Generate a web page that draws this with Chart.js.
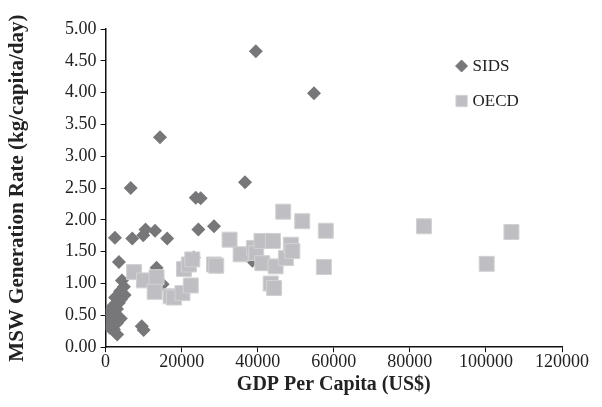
<!DOCTYPE html>
<html>
<head>
<meta charset="utf-8">
<script src="https://cdn.jsdelivr.net/npm/chart.js@4/dist/chart.umd.min.js"></script>
<style>
  html, body { margin: 0; padding: 0; background: #fff; }
  #wrap { width: 602px; height: 407px; }
</style>
</head>
<body>
<div id="wrap"><canvas id="msw"></canvas></div>
<script>
// GDP per capita (US$) and MSW rate (kg/capita/day)
var sidsGdp = [2450, 7000, 9900, 10500, 13000, 16200, 14300, 6600, 36650, 23700, 25000, 28500, 24400,
  39500, 54800, 3500, 13400, 15000, 23200, 38600, 9500, 10000, 3050,
  4300, 4800, 3800, 5000, 2500, 3500, 2000, 3000, 4000, 800, 1500, 2500, 500, 1800, 3000, 1200, 2200, 4000];
var sidsRate = [1.72, 1.71, 1.76, 1.85, 1.83, 1.71, 3.30, 2.50, 2.59, 2.35, 2.34, 1.90, 1.85,
  4.65, 3.99, 1.34, 1.25, 0.99, 1.41, 1.36, 0.33, 0.27, 0.20,
  1.05, 0.95, 0.88, 0.82, 0.78, 0.70, 0.65, 0.60, 0.75, 0.55, 0.50, 0.45, 0.40, 0.35, 0.38, 0.30, 0.28, 0.45];

var oecdGdp = [7500, 10100, 13400, 12900, 17100, 18000, 20200, 20600, 21900, 22400, 22800,
  28500, 29100, 32600, 35500, 39000, 39600, 41000, 41200, 44000, 44700, 43400, 44300,
  47400, 48700, 49100, 46700, 51700, 57900, 57400, 83700, 106700, 100200];
var oecdRate = [1.18, 1.05, 1.10, 0.87, 0.80, 0.78, 0.85, 1.23, 1.30, 0.97, 1.38,
  1.30, 1.28, 1.69, 1.46, 1.56, 1.48, 1.67, 1.32, 1.67, 1.27, 1.00, 0.93,
  1.40, 1.61, 1.51, 2.13, 1.98, 1.83, 1.26, 1.90, 1.81, 1.31];

var serif = "'Liberation Serif', 'DejaVu Serif', serif";

function toPoints(xs, ys) {
  var pts = [];
  for (let i = 0; i < xs.length; i++) {
    pts.push({ x: xs[i], y: ys[i] });
  }
  return pts;
}

// Legend sits inside the plot, top right, one item per row
var insideLegend = {
  id: 'insideLegend',
  afterDraw: function(chart) {
    var ctx = chart.ctx;
    var area = chart.chartArea;
    var x0 = area.left + (area.right - area.left) * 0.78;
    var y0 = area.top + 37;
    ctx.save();
    ctx.font = "17px " + serif;
    ctx.textBaseline = 'middle';
    chart.data.datasets.forEach(function(ds, i) {
      var y = y0 + i * 35;
      ctx.fillStyle = ds.backgroundColor;
      ctx.strokeStyle = ds.borderColor;
      ctx.lineWidth = 1;
      Chart.helpers.drawPoint(ctx, { pointStyle: ds.pointStyle, radius: ds.legendRadius, borderWidth: 1 }, x0, y);
      ctx.fillStyle = '#222';
      ctx.fillText(ds.label, x0 + 11, y + 1);
    });
    ctx.restore();
  }
};

new Chart(document.getElementById('msw'), {
  type: 'scatter',
  data: {
    datasets: [
      {
        label: 'SIDS',
        data: toPoints(sidsGdp, sidsRate),
        pointStyle: 'rectRot',
        pointRadius: 7,
        backgroundColor: '#77777a',
        borderColor: '#77777a',
        borderWidth: 0,
        legendRadius: 6,
        order: 2
      },
      {
        label: 'OECD',
        data: toPoints(oecdGdp, oecdRate),
        pointStyle: 'rect',
        pointRadius: 10.6,
        backgroundColor: '#bfbfc3',
        borderColor: '#d2d2d5',
        borderWidth: 1,
        legendRadius: 8,
        order: 1
      }
    ]
  },
  options: {
    responsive: true,
    maintainAspectRatio: false,
    animation: false,
    layout: { padding: { top: 29, right: 40, left: 6, bottom: 11 } },
    plugins: {
      legend: { display: false },
      tooltip: { enabled: false }
    },
    scales: {
      x: {
        type: 'linear',
        min: 0,
        max: 120000,
        border: { color: '#111', width: 1.5 },
        grid: { display: true, drawOnChartArea: false, drawTicks: true, tickLength: 5, color: '#111' },
        ticks: {
          stepSize: 20000,
          color: '#222',
          font: { family: serif, size: 18, lineHeight: 1.1 },
          padding: 0,
          maxRotation: 0,
          callback: function(v) { return String(v); }
        },
        title: {
          display: true,
          text: 'GDP Per Capita (US$)',
          color: '#222',
          font: { family: serif, size: 20, weight: 'bold', lineHeight: 1.1 },
          padding: { top: 2, bottom: 0 }
        }
      },
      y: {
        type: 'linear',
        min: 0,
        max: 5,
        border: { color: '#111', width: 1.5 },
        grid: { display: true, drawOnChartArea: false, drawTicks: true, tickLength: 5, color: '#111' },
        ticks: {
          stepSize: 0.5,
          color: '#222',
          font: { family: serif, size: 18 },
          padding: 4,
          callback: function(v) { return v.toFixed(2); }
        },
        title: {
          display: true,
          text: 'MSW Generation Rate (kg/capita/day)',
          color: '#222',
          font: { family: serif, size: 21, weight: 'bold', lineHeight: 1.1 },
          padding: { top: 0, bottom: 32 }
        }
      }
    }
  },
  plugins: [insideLegend]
});
</script>
</body>
</html>
